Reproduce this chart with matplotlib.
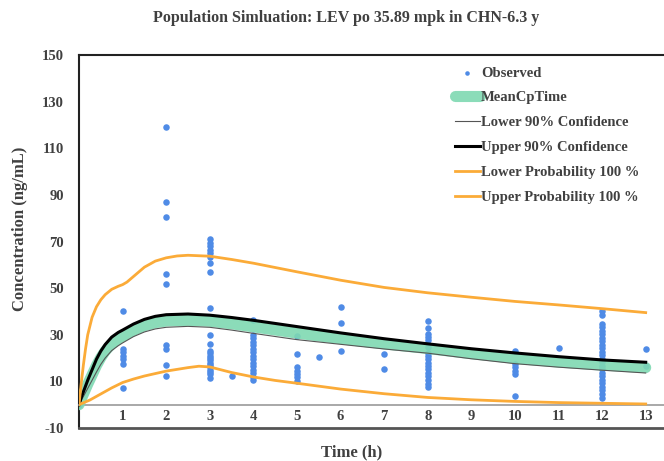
import matplotlib.pyplot as plt

plt.rcParams['font.family'] = ['Liberation Serif', 'DejaVu Serif']
plt.rcParams['font.weight'] = 'bold'
plt.rcParams['axes.unicode_minus'] = False

# observed concentrations (time in h, conc in ng/mL)
obs_time = ([0] + [1] * 7 + [2] * 9 + [3] * 23 + [3.5] + [4] * 15 + [5] * 7 + [5.5]
            + [6] * 3 + [7] * 2 + [8] * 17 + [10] * 6 + [11] + [12] * 24 + [13] * 2)
obs_conc = ([0]
            + [40.4, 24, 22.4, 21, 19.8, 17.6, 7]
            + [119.3, 87, 80.4, 56, 51.8, 25.8, 23.7, 17.2, 12.5]
            + [71, 69.5, 68, 66.5, 65, 63.2, 60.6, 56.8, 41.4, 30.1, 26.2, 23.2, 22, 21,
               20, 19, 18, 17, 16, 15, 14, 13, 11.3]
            + [12.5]
            + [36.4, 30, 28.5, 27, 25.5, 24, 22.5, 21, 19.5, 18, 16.5, 15, 13.5, 12, 10.5]
            + [29.6, 21.8, 16, 14.6, 13.2, 11.8, 10.3]
            + [20.4]
            + [42.1, 35, 23.2]
            + [21.8, 15.1]
            + [35.9, 32.9, 30.5, 29, 27.8, 24.8, 22.2, 20.8, 19.4, 18, 16.6, 15.2, 13.8,
               12.4, 10.6, 8.8, 7.4]
            + [23, 17.5, 16, 14.6, 13.2, 3.7]
            + [24.4]
            + [40, 38.4, 34.7, 33.2, 31.7, 30.2, 28.7, 27.2, 25.7, 24.2, 22.7, 21.2, 19.7,
               18.2, 16.7, 15.2, 13.7, 12.2, 10.7, 9.2, 7.7, 6.2, 4.6, 2.8]
            + [24, 16.8])

# 90% confidence and mean
ci_time = [0, 0.05, 0.1, 0.2, 0.3, 0.4, 0.5, 0.6, 0.75, 0.9, 1, 1.25, 1.5, 1.75, 2,
           2.5, 3, 3.5, 4, 5, 6, 7, 8, 9, 10, 11, 12, 13]
upper90 = [0, 3, 5.5, 10.5, 15, 19.5, 23, 25.8, 29, 31, 32, 34.6, 36.6, 37.9, 38.6,
           38.9, 38.4, 37.4, 36.2, 33.5, 30.8, 28.3, 26.1, 24, 22.2, 20.6, 19.2, 18.2]
lower90 = [0, 1.8, 3.5, 7, 10.5, 14, 17.3, 20, 23.2, 25.3, 26.5, 29.2, 31.2, 32.5, 33.2,
           33.6, 33.2, 32, 30.6, 27.9, 25.9, 23.9, 22.1, 19.7, 17.6, 16.1, 14.8, 13.6]
mean_cp = [0, 2.4, 4.5, 8.8, 12.8, 16.8, 20.2, 23, 26.1, 28.2, 29.3, 31.9, 33.9, 35.2, 35.9,
           36.2, 35.8, 34.7, 33.4, 30.7, 28.3, 26.1, 24.1, 21.9, 19.9, 18.3, 17, 15.9]

# 100% probability band
up_time = [0, 0.05, 0.1, 0.15, 0.2, 0.3, 0.4, 0.5, 0.6, 0.75, 0.9, 1, 1.1, 1.25, 1.5,
           1.75, 2, 2.25, 2.5, 3, 3.5, 4, 5, 6, 7, 8, 9, 10, 11, 12, 13]
upper_prob = [0, 9, 17, 24, 30, 37.5, 42, 45, 47.2, 49.5, 50.8, 51.5, 52.6, 55, 59,
              61.6, 63, 63.8, 64.1, 63.7, 62.3, 60.7, 57, 53.4, 50.3, 48, 46.1, 44.3,
              42.8, 41.2, 39.5]
lo_time = [0, 0.25, 0.5, 0.75, 1, 1.25, 1.5, 2, 2.5, 2.75, 3, 3.25, 3.5, 4, 4.5, 5, 6,
           7, 8, 9, 10, 11, 12, 13]
lower_prob = [0, 2, 4.6, 7.2, 9.5, 11, 12.3, 14.4, 15.9, 16.5, 16.2, 15, 13.8, 11.9,
              10.4, 9.2, 6.7, 4.7, 3.1, 2.1, 1.4, 0.9, 0.6, 0.3]

txt = '#404040'
blue = '#4f8be6'
orange = '#fbab38'
green = '#7fd9b2'

fig = plt.figure(figsize=(6.64, 4.61), dpi=100)
ax = fig.add_axes([0.119, 0.0716, 0.881, 0.809])

ax.scatter(obs_time, obs_conc, s=22, color=blue, zorder=2, label='Observed', linewidths=0)
ax.plot(ci_time, mean_cp, color=green, lw=8, alpha=0.9, solid_capstyle='round',
        zorder=3, label='MeanCpTime')
ax.plot(ci_time, lower90, color='#555555', lw=0.8, zorder=4, label='Lower 90% Confidence')
ax.plot(ci_time, upper90, color='black', lw=2.2, zorder=4, label='Upper 90% Confidence')
ax.plot(lo_time, lower_prob, color=orange, lw=2, zorder=4, label='Lower Probability 100 %')
ax.plot(up_time, upper_prob, color=orange, lw=2, zorder=4, label='Upper Probability 100 %')

ax.set_xlim(0, 13.42)
ax.set_ylim(-10, 150)
ax.set_yticks(range(-10, 151, 20))
ax.set_xticks(range(1, 14))

ax.spines['right'].set_visible(False)
ax.spines['top'].set_linewidth(1.5)
ax.spines['left'].set_linewidth(1.5)
ax.spines['top'].set_color('#222222')
ax.spines['left'].set_color('#222222')
ax.spines['bottom'].set_position(('data', 0))
ax.spines['bottom'].set_color('#999999')
ax.spines['bottom'].set_linewidth(1.2)
ax.axhline(-10, color='#555555', lw=2, clip_on=False, zorder=5)

ax.tick_params(axis='both', length=0, colors=txt, labelsize=10.5)
ax.tick_params(axis='x', pad=4)
ax.tick_params(axis='y', pad=11)

fig.text(0.521, 0.961, 'Population Simluation: LEV po 35.89 mpk in CHN-6.3 y',
         ha='center', va='center', fontsize=11.5, color=txt, fontweight='bold')
fig.text(0.53, 0.018, 'Time (h)', ha='center', va='center', fontsize=12,
         color=txt, fontweight='bold')
fig.text(0.03, 0.503, 'Concentration (ng/mL)', ha='center', va='center', fontsize=12,
         color=txt, fontweight='bold', rotation=90)

leg = ax.legend(loc='upper left', bbox_to_anchor=(0.62, 1.005), frameon=False,
                fontsize=10.5, handlelength=1.7, handletextpad=0.1, labelspacing=0.8,
                markerscale=0.7)
for t in leg.get_texts():
    t.set_color(txt)

fig.savefig('out.png', dpi=100)
